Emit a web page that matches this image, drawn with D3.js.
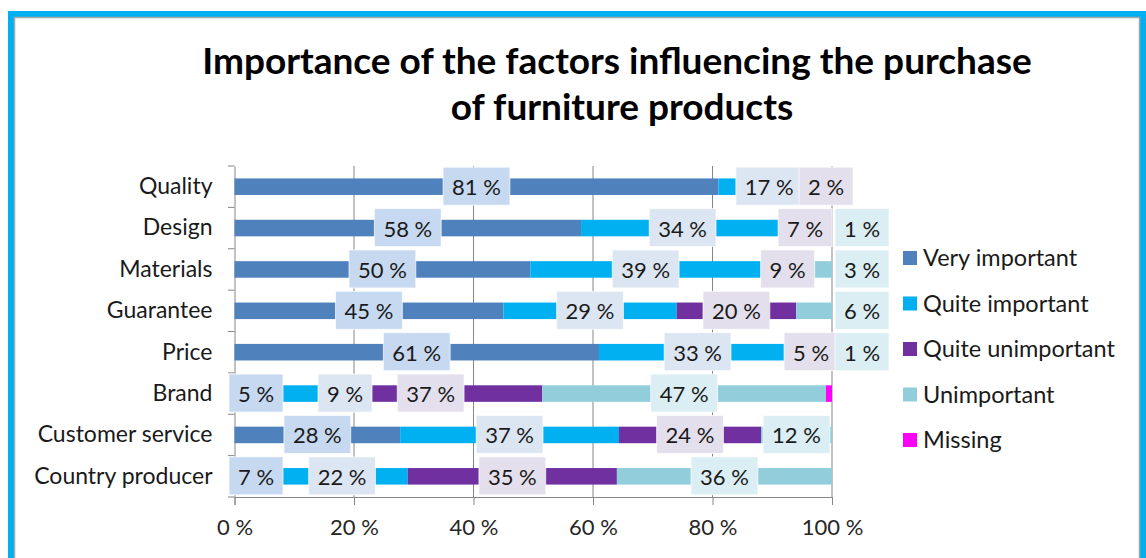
<!DOCTYPE html>
<html>
<head>
<meta charset="utf-8">
<script src="https://cdn.jsdelivr.net/npm/d3@7"></script>
<style>
  body { margin: 0; background: #fff; }
  svg { display: block; font-family: Lato, "Open Sans", sans-serif; }
</style>
</head>
<body>
<article></article>
<script>
// data
const categories = ['Quality', 'Design', 'Materials', 'Guarantee', 'Price', 'Brand', 'Customer service', 'Country producer']
const series = ['Very important', 'Quite important', 'Quite unimportant', 'Unimportant', 'Missing']

const veryImportant    = [81, 58, 50, 45, 61, 5, 28, 7]
const quiteImportant   = [17, 34, 39, 29, 33, 9, 37, 22]
const quiteUnimportant = [2, 7, 9, 20, 5, 37, 24, 35]
const unimportant      = [0, 1, 3, 6, 1, 47, 12, 36]
const missing          = [0, 0, 0, 0, 0, 1, 0, 0]

const xTicks = [0, 0.2, 0.4, 0.6, 0.8, 1]

const colors = ['#4F81BD', '#00B0F0', '#7030A0', '#92CDDC', '#FF00FF']
const boxColors = ['#C6D9F1', '#DCE6F2', '#E4DFEC', '#DAEEF3', '#FFCCFF']

let table = categories.map((c, i) => ({
  name: c,
  'Very important': veryImportant[i],
  'Quite important': quiteImportant[i],
  'Quite unimportant': quiteUnimportant[i],
  'Unimportant': unimportant[i],
  'Missing': missing[i]
}))

const W = 1146, H = 558
const svg = d3.select('article').append('svg')
  .attr('width', W)
  .attr('height', H)

// frame
svg.append('rect')
  .attr('x', 11).attr('y', 14)
  .attr('width', 1132).attr('height', 600)
  .attr('fill', '#fff')
  .attr('stroke', '#00B0F0')
  .attr('stroke-width', 6)
svg.append('rect')
  .attr('x', 14.5).attr('y', 17.5)
  .attr('width', 1125).attr('height', 600)
  .attr('fill', 'none')
  .attr('stroke', '#A6A6A6')
  .attr('stroke-width', 1.5)

// title
const title = svg.append('text')
  .attr('text-anchor', 'middle')
  .attr('font-weight', 'bold')
  .attr('font-size', 37)
  .attr('fill', '#000')
title.append('tspan').attr('x', 617).attr('y', 74).text('Importance of the factors influencing the purchase')
title.append('tspan').attr('x', 622).attr('y', 120).text('of furniture products')

const x = d3.scaleLinear().domain([0, 1]).range([234.5, 832])
const y = d3.scaleBand().domain(categories).range([166, 497]).paddingInner(0.6).paddingOuter(0.3)

// grid
svg.append('g').selectAll('line')
  .data(xTicks.slice(1))
  .enter()
  .append('line')
  .attr('x1', d => x(d)).attr('x2', d => x(d))
  .attr('y1', 166).attr('y2', 497)
  .attr('stroke', '#868686')
  .attr('stroke-width', 1)

// axes
const xAxis = svg.append('g')
  .attr('transform', 'translate(0,497)')
  .call(d3.axisBottom(x).tickValues(xTicks).tickSize(8).tickPadding(14)
    .tickFormat(d => Math.round(d * 100) + ' %'))
xAxis.select('.domain').attr('stroke', '#868686')
xAxis.selectAll('.tick line').attr('stroke', '#868686')
xAxis.selectAll('text').attr('font-size', 22).attr('fill', '#262626').attr('font-family', 'Lato, "Open Sans", sans-serif')

const yBand = d3.scaleBand().domain(categories).range([166, 497])
const yAxis = svg.append('g')
  .attr('transform', 'translate(234.5,0)')
  .call(d3.axisLeft(yBand).tickSize(0).tickPadding(22))
yAxis.select('.domain').attr('stroke', '#868686')
yAxis.selectAll('text').attr('font-size', 23).attr('fill', '#1a1a1a').attr('font-family', 'Lato, "Open Sans", sans-serif')

// category separators on the y axis
svg.append('g').selectAll('line')
  .data(categories.map(c => yBand(c)).concat([497]))
  .enter()
  .append('line')
  .attr('x1', 228).attr('x2', 234.5)
  .attr('y1', d => d).attr('y2', d => d)
  .attr('stroke', '#868686')

// bars
let stacked = d3.stack().keys(series).offset(d3.stackOffsetExpand)(table)

svg.append('g').selectAll('g')
  .data(stacked)
  .enter()
  .append('g')
  .attr('fill', (d, i) => colors[i])
  .selectAll('rect')
  .data(d => d)
  .enter()
  .append('rect')
  .attr('x', d => x(d[0]))
  .attr('y', d => y(d.data.name))
  .attr('width', d => x(d[1]) - x(d[0]))
  .attr('height', y.bandwidth())

// data labels (no labels for Missing)
const labels = svg.append('g')
let lastRight = {}
stacked.slice(0, 4).forEach((s, si) => {
  s.forEach(d => {
    let v = d.data[s.key]
    if (!v) return
    let g = labels.append('g')
    let t = g.append('text')
      .attr('font-size', 22)
      .attr('fill', '#1a1a1a')
      .attr('text-anchor', 'middle')
      .text(v + ' %')
    let tw = t.node().getComputedTextLength()
    let bw = tw + 18, bh = 38
    let cx = x((d[0] + d[1]) / 2)
    if (s.key === 'Unimportant' && v < 10) {
      // small last values sit just past the bar end
      cx = x(1) + 3 + bw / 2
    } else if (lastRight[d.data.name] && cx - bw / 2 < lastRight[d.data.name] - 10) {
      // overlapping label pushed past its segment
      cx = x(d[1]) - 1 + bw / 2
    }
    if (cx - bw / 2 < 229) cx = 229 + bw / 2
    lastRight[d.data.name] = cx + bw / 2
    let cy = y(d.data.name) + y.bandwidth() / 2
    g.insert('rect', 'text')
      .attr('x', cx - bw / 2).attr('y', cy - bh / 2 - 0.5)
      .attr('width', bw).attr('height', bh)
      .attr('fill', boxColors[si])
      .attr('stroke', '#fff')
      .attr('stroke-opacity', 0.7)
    t.attr('x', cx).attr('y', cy + 8.5)
  })
})

// legend
const legend = svg.append('g').selectAll('g')
  .data(series)
  .enter()
  .append('g')
  .attr('transform', (d, i) => `translate(903, ${258 + i * 45.5})`)
legend.append('rect')
  .attr('x', 0).attr('y', -7)
  .attr('width', 14).attr('height', 14)
  .attr('fill', (d, i) => colors[i])
legend.append('text')
  .attr('x', 20).attr('y', 8)
  .attr('font-size', 23.5)
  .attr('fill', '#1a1a1a')
  .text(d => d)
</script>
</body>
</html>
